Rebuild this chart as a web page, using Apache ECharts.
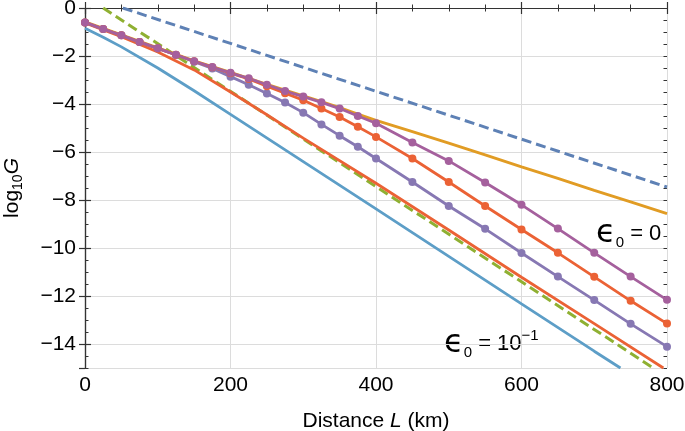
<!DOCTYPE html>
<html><head><meta charset="utf-8">
<script src="https://cdn.jsdelivr.net/npm/echarts@6/dist/echarts.min.js"></script>
<style>html,body{margin:0;padding:0;background:#fff}#c{width:685px;height:431px}</style>
</head><body><div id="c"></div><script>
// ---- data ----
const xTickValues = [0, 200, 400, 600, 800];
const yTickValues = [0, -2, -4, -6, -8, -10, -12, -14];

const markerX = [0,25,50,75,100,125,150,175,200,225,250,275,300,325,350,375,400,450,500,550,600,650,700,750,800];
const magentaY = [-0.6,-0.88,-1.14,-1.42,-1.68,-1.95,-2.22,-2.46,-2.7,-2.93,-3.2,-3.46,-3.69,-3.93,-4.19,-4.5,-4.8,-5.6,-6.37,-7.27,-8.2,-9.19,-10.2,-11.19,-12.16];
const redMarkY = [-0.6,-0.88,-1.14,-1.42,-1.68,-1.95,-2.22,-2.47,-2.72,-2.96,-3.26,-3.55,-3.84,-4.19,-4.54,-4.95,-5.37,-6.27,-7.25,-8.25,-9.23,-10.2,-11.2,-12.2,-13.15];
const lavenderY = [-0.6,-0.88,-1.14,-1.42,-1.68,-1.96,-2.24,-2.52,-2.86,-3.2,-3.56,-3.94,-4.36,-4.85,-5.32,-5.78,-6.27,-7.25,-8.25,-9.2,-10.21,-11.19,-12.17,-13.16,-14.11];

const orangeX = [0,50,100,150,200,250,300,325,350,375,400,450,500,550,600,650,700,750,800];
const orangeY = [-0.58,-1.12,-1.66,-2.2,-2.68,-3.18,-3.66,-3.9,-4.15,-4.42,-4.68,-5.15,-5.63,-6.12,-6.62,-7.1,-7.6,-8.08,-8.57];

const lightBlueX = [0,25,50,100,150,200,300,400,500,600,700,736];
const lightBlueY = [-0.84,-1.22,-1.62,-2.5,-3.45,-4.43,-6.4,-8.37,-10.35,-12.33,-14.3,-15];

const redSolidX = [0,50,100,150,200,250,300,400,500,600,700,795];
const redSolidY = [-0.62,-1.2,-1.83,-2.58,-3.5,-4.45,-5.42,-7.3,-9.25,-11.22,-13.15,-15];

const greenDashX = [25, 781];
const greenDashY = [0, -15];

const blueDashX = [52, 800];
const blueDashY = [0, -7.46];

// ---- helpers ----
const zip = (xs, ys) => xs.map((x, i) => [x, ys[i]]);
const FONT = "'Liberation Sans', Arial, Helvetica, sans-serif";
const AX = '#333';

function lineSeries(name, xs, ys, color, opts) {
  opts = opts || {};
  return {
    name, type: 'line', data: zip(xs, ys), xAxisIndex: 0, yAxisIndex: 0,
    showSymbol: !!opts.markers, symbol: 'circle', symbolSize: opts.markers ? 8 : 0,
    itemStyle: { color },
    lineStyle: { color, width: opts.width || 2.8, type: opts.dash ? [10, 5] : 'solid', cap: 'butt' },
    clip: true, animation: false, silent: true
  };
}

const baseX = {
  type: 'value', min: 0, max: 800, interval: 200,
  axisLine: { show: true, lineStyle: { color: AX, width: 1.2 } },
  axisTick: { show: true, inside: true, length: 6, lineStyle: { color: AX, width: 1.2 } },
  minorTick: { show: true, splitNumber: 4, length: 3.5, lineStyle: { color: AX, width: 1 } },
};

const option = {
  backgroundColor: '#fff',
  animation: false,
  grid: { left: 85, right: 18, top: 8, bottom: 63, containLabel: false, outerBoundsMode: 'none' },
  xAxis: [
    Object.assign({}, baseX, {
      position: 'bottom',
      splitLine: { show: true, lineStyle: { color: '#dcdcdc', width: 1 } },
      axisLabel: { show: true, fontSize: 21, color: '#000', margin: 7, fontFamily: FONT,
        customValues: xTickValues },
      name: '{a|Distance }{b|L}{a| (km)}',
      nameLocation: 'middle', nameGap: 43,
      nameTextStyle: { rich: {
        a: { fontSize: 21, fontFamily: FONT, color: '#000' },
        b: { fontSize: 21, fontFamily: FONT, fontStyle: 'italic', color: '#000' }
      } }
    }),
    Object.assign({}, baseX, {
      position: 'top', splitLine: { show: false }, axisLabel: { show: false }
    })
  ],
  yAxis: [
    {
      type: 'value', min: -15, max: 0, splitNumber: 7, position: 'left',
      axisLine: { show: true, lineStyle: { color: AX, width: 1.2 } },
      axisTick: { show: true, inside: true, length: 6, lineStyle: { color: AX, width: 1.2 } },
      splitLine: { show: true, lineStyle: { color: '#dcdcdc', width: 1 } },
      axisLabel: { show: true, fontSize: 21, color: '#000', margin: 9, fontFamily: FONT,
        showMinLabel: false,
        formatter: v => (v < 0 ? '\u2212' + Math.abs(v) : String(v)) },
      name: '{a|log}{s|10}{g|G}',
      nameLocation: 'middle', nameGap: 60, nameRotate: 90,
      nameTextStyle: { rich: {
        a: { fontSize: 21, fontFamily: FONT, color: '#000', lineHeight: 26 },
        s: { fontSize: 14, fontFamily: FONT, color: '#000', lineHeight: 14, verticalAlign: 'bottom' },
        g: { fontSize: 21, fontFamily: FONT, color: '#000', fontStyle: 'italic', lineHeight: 26 }
      } }
    },
    {
      type: 'value', min: -15, max: 0, splitNumber: 7, position: 'right',
      axisLine: { show: true, lineStyle: { color: AX, width: 1.2 } },
      axisTick: { show: true, inside: true, length: 6, lineStyle: { color: AX, width: 1.2 } },
      splitLine: { show: false }, axisLabel: { show: false }
    },
    {
      type: 'value', min: -15, max: 0, interval: 0.5, position: 'left',
      axisLine: { show: false },
      axisTick: { show: true, inside: true, length: 3.5, lineStyle: { color: AX, width: 1 } },
      splitLine: { show: false }, axisLabel: { show: false }
    },
    {
      type: 'value', min: -15, max: 0, interval: 0.5, position: 'right',
      axisLine: { show: false },
      axisTick: { show: true, inside: true, length: 3.5, lineStyle: { color: AX, width: 1 } },
      splitLine: { show: false }, axisLabel: { show: false }
    }
  ],
  series: [
    lineSeries('blueDash', blueDashX, blueDashY, '#5E81B5', { dash: true, width: 3 }),
    lineSeries('lightBlue', lightBlueX, lightBlueY, '#5D9EC7'),
    lineSeries('greenDash', greenDashX, greenDashY, '#8FB032', { dash: true, width: 3 }),
    lineSeries('redSolid', redSolidX, redSolidY, '#EB6235'),
    lineSeries('orange', orangeX, orangeY, '#E19C24'),
    lineSeries('lavender', markerX, lavenderY, '#8778B3', { markers: true }),
    lineSeries('redMarks', markerX, redMarkY, '#EB6235', { markers: true }),
    lineSeries('magenta', markerX, magentaY, '#A5609D', { markers: true })
  ],
  graphic: [
    {
      type: 'text', left: 596, top: 218, silent: true,
      style: {
        text: '{e|\u03F5}{s|0}{n| = 0}',
        rich: {
          e: { fontFamily: "'DejaVu Sans'", fontSize: 32, color: '#000', lineHeight: 32 },
          s: { fontFamily: FONT, fontSize: 15, color: '#000', lineHeight: 16, verticalAlign: 'bottom' },
          n: { fontFamily: FONT, fontSize: 22, color: '#000', lineHeight: 32 }
        }
      }
    },
    {
      type: 'text', left: 444, top: 328, silent: true,
      style: {
        text: '{e|\u03F5}{s|0}{n| = 10}{p|\u22121}',
        rich: {
          e: { fontFamily: "'DejaVu Sans'", fontSize: 32, color: '#000', lineHeight: 32 },
          s: { fontFamily: FONT, fontSize: 15, color: '#000', lineHeight: 16, verticalAlign: 'bottom' },
          n: { fontFamily: FONT, fontSize: 22, color: '#000', lineHeight: 32 },
          p: { fontFamily: FONT, fontSize: 15, color: '#000', lineHeight: 10, verticalAlign: 'top' }
        }
      }
    }
  ]
};

const chart = echarts.init(document.getElementById('c'), null, { renderer: 'canvas' });
chart.setOption(option);
</script></body></html>
